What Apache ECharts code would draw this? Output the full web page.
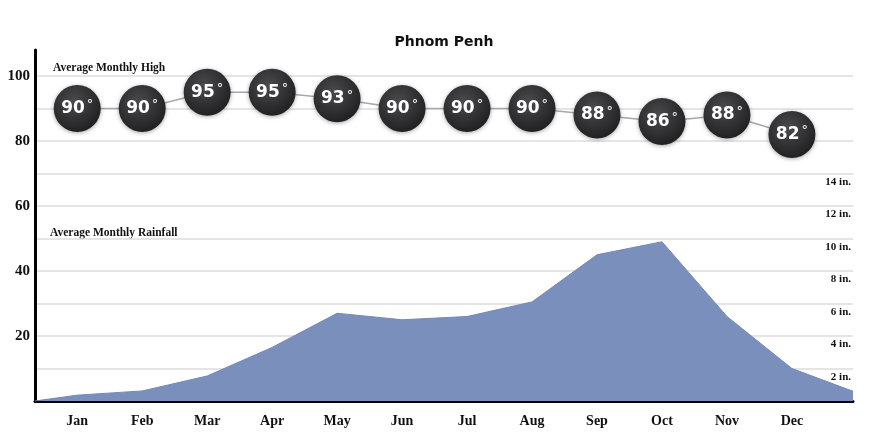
<!DOCTYPE html>
<html>
<head>
<meta charset="utf-8">
<script src="https://cdn.jsdelivr.net/npm/echarts@6/dist/echarts.min.js"></script>
<style>
  html, body { margin: 0; padding: 0; background: #fff; }
  #chart { width: 888px; height: 444px; }
</style>
</head>
<body>
<div id="chart"></div>
<script>
const months = ['Jan','Feb','Mar','Apr','May','Jun','Jul','Aug','Sep','Oct','Nov','Dec'];
const highTemps = [90, 90, 95, 95, 93, 90, 90, 90, 88, 86, 88, 82];
const rainfallIn = [0.36, 0.62, 1.54, 3.3, 5.4, 5.0, 5.2, 6.1, 9.0, 9.8, 5.2, 2.0];
const rainEdgeStart = 0;     // inches at left edge of chart
const rainEdgeEnd = 0.6;     // inches at right edge of chart
const tempTicks = [20, 40, 60, 80, 100];
const rainTicks = [2, 4, 6, 8, 10, 12, 14];
const xMin = -0.65, xMax = 11.94;

const serif = '"Liberation Serif", "Times New Roman", serif';
const sans = '"DejaVu Sans", Verdana, sans-serif';

const tempData = highTemps.map((v, i) => [i, v]);
const rainData = [[xMin, rainEdgeStart]]
  .concat(rainfallIn.map((v, i) => [i, v]))
  .concat([[xMax, rainEdgeEnd]]);

const chart = echarts.init(document.getElementById('chart'));
chart.setOption({
  backgroundColor: '#fff',
  animation: false,
  title: {
    text: 'Phnom Penh',
    left: 'center',
    top: 30,
    textStyle: { fontFamily: sans, fontWeight: 'bold', fontSize: 14, color: '#111' }
  },
  graphic: [
    { type: 'text', left: 53, top: 62, style: { text: 'Average Monthly High', font: 'bold 11.5px ' + serif, fill: '#111' } },
    { type: 'text', left: 50, top: 227, style: { text: 'Average Monthly Rainfall', font: 'bold 11.5px ' + serif, fill: '#111' } }
  ],
  grid: { left: 35, right: 35, top: 50, bottom: 43 },
  xAxis: {
    type: 'value',
    min: xMin,
    max: xMax,
    axisLine: { show: true, onZero: false, lineStyle: { color: '#000', width: 3 } },
    axisTick: { show: false },
    splitLine: { show: false },
    axisLabel: {
      customValues: months.map((m, i) => i),
      formatter: v => months[Math.round(v)],
      fontFamily: serif, fontWeight: 'bold', fontSize: 14, color: '#111',
      margin: 13
    }
  },
  yAxis: [
    {
      type: 'value',
      min: 0, max: 108, interval: 10,
      axisLine: { show: true, onZero: false, lineStyle: { color: '#000', width: 3 } },
      axisTick: { show: false },
      splitLine: { show: true, showMaxLine: false, showMinLine: false, lineStyle: { color: '#dcdcdc', width: 1.5 } },
      axisLabel: {
        formatter: v => tempTicks.includes(v) ? String(v) : '',
        fontFamily: serif, fontWeight: 'bold', fontSize: 15, color: '#111',
        margin: 5
      }
    },
    {
      type: 'value',
      position: 'right',
      min: 0, max: 21.6, interval: 2,
      axisLine: { show: false, onZero: false },
      axisTick: { show: false },
      splitLine: { show: false },
      axisLabel: {
        inside: true,
        formatter: v => rainTicks.includes(v) ? v + ' in.' : '',
        verticalAlign: 'top',
        padding: [3, 0, 0, 0],
        fontFamily: serif, fontWeight: 'bold', fontSize: 11, color: '#111',
        margin: 2
      }
    }
  ],
  series: [
    {
      name: 'Average Monthly Rainfall',
      type: 'line',
      yAxisIndex: 1,
      data: rainData,
      symbol: 'none',
      z: 1,
      lineStyle: { color: '#7488b8', width: 1 },
      areaStyle: { color: '#7b8fbc', opacity: 1 }
    },
    {
      name: 'Average Monthly High',
      type: 'line',
      yAxisIndex: 0,
      data: tempData,
      symbol: 'circle',
      symbolSize: 47,
      z: 5,
      lineStyle: { color: '#a8a8a8', width: 1.5 },
      itemStyle: {
        color: {
          type: 'radial', x: 0.42, y: 0.35, r: 0.7,
          colorStops: [{ offset: 0, color: '#4a4a4c' }, { offset: 1, color: '#1e1e20' }]
        },
        shadowBlur: 4,
        shadowColor: 'rgba(0,0,0,0.35)',
        shadowOffsetY: 1
      },
      label: {
        show: true,
        position: 'inside',
        formatter: p => '{v|' + p.value[1] + '}{d|°}',
        rich: {
          v: { color: '#fff', fontFamily: sans, fontWeight: 'bold', fontSize: 17, lineHeight: 20 },
          d: { color: '#fff', fontFamily: sans, fontSize: 13, lineHeight: 20, padding: [0, 0, 7, 2] }
        }
      }
    }
  ]
});
</script>
</body>
</html>
